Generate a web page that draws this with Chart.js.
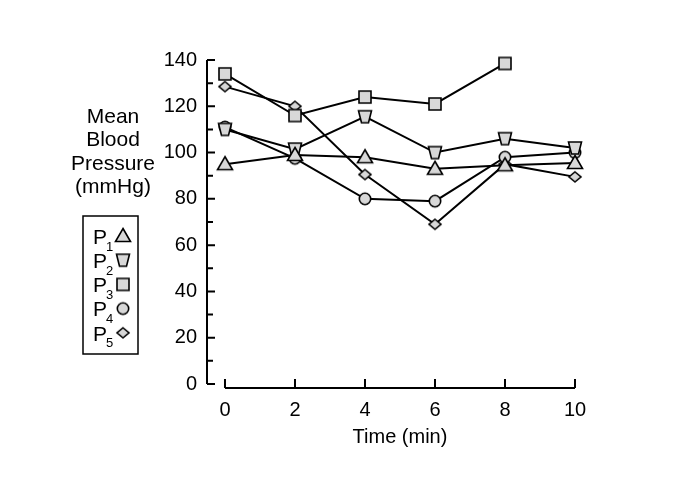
<!DOCTYPE html>
<html>
<head>
<meta charset="utf-8">
<script src="https://cdn.jsdelivr.net/npm/chart.js@4.4.1/dist/chart.umd.min.js"></script>
<style>
  html, body { margin: 0; padding: 0; background: #fff; }
</style>
</head>
<body>
<canvas id="bpChart" width="685" height="503"></canvas>
<script>
// Data
const times = [0, 2, 4, 6, 8, 10];
const p1 = [95, 99, 98, 93, 94.5, 95.5];
const p2 = [110, 101.5, 115.5, 100, 106, 102];
const p3 = [134, 116, 124, 121, 138.5, null];
const p4 = [111, 97.5, 80, 79, 98, 100];
const p5 = [128.5, 120, 90.5, 69, 95, 89.5];
const seriesSubs = ['1', '2', '3', '4', '5'];
const xTicks = [0, 2, 4, 6, 8, 10];
const yTicks = [0, 20, 40, 60, 80, 100, 120, 140];
const yMinorTicks = [10, 30, 50, 70, 90, 110, 130];
const yTitleLines = ['Mean', 'Blood', 'Pressure', '(mmHg)'];
const xTitle = 'Time (min)';

const FONT = '"Liberation Sans", Arial, Helvetica, sans-serif';
const FILL = '#d8d8d8';

// Marker images
function makeMarker(shape) {
    const c = document.createElement('canvas');
    c.width = 20; c.height = 20;
    const g = c.getContext('2d');
    g.translate(10, 10);
    g.beginPath();
    if (shape === 'tri') {
        g.moveTo(0, -7.5); g.lineTo(7.5, 5.5); g.lineTo(-7.5, 5.5);
    } else if (shape === 'trap') {
        g.moveTo(-6.5, -6); g.lineTo(6.5, -6); g.lineTo(3.5, 6); g.lineTo(-3.5, 6);
    } else if (shape === 'sq') {
        g.rect(-6, -6, 12, 12);
    } else if (shape === 'circ') {
        g.arc(0, 0, 5.7, 0, Math.PI * 2);
    } else {
        g.moveTo(0, -5); g.lineTo(6, 0); g.lineTo(0, 5); g.lineTo(-6, 0);
    }
    g.closePath();
    g.fillStyle = FILL;
    g.fill();
    g.lineWidth = 1.6;
    g.strokeStyle = '#000';
    g.stroke();
    return c;
}
const markers = [makeMarker('tri'), makeMarker('trap'), makeMarker('sq'), makeMarker('circ'), makeMarker('dia')];
const series = [p1, p2, p3, p4, p5];

const datasets = series.map((vals, i) => ({
    label: 'P' + seriesSubs[i],
    data: times.map((t, j) => ({ x: t, y: vals[j] })),
    borderColor: '#000',
    borderWidth: 2,
    pointStyle: markers[i],
    pointRadius: 7,
    tension: 0,
    clip: false
}));

// Axes, legend and titles drawn by hand
const decorPlugin = {
    id: 'decor',
    afterDraw(chart) {
        const g = chart.ctx;
        const xs = chart.scales.x;
        const ys = chart.scales.y;
        const area = chart.chartArea;
        g.save();
        g.strokeStyle = '#000';
        g.fillStyle = '#000';
        g.lineWidth = 2;

        // y axis (the zero tick doubles as the foot)
        const ax = area.left;
        const y0 = ys.getPixelForValue(yTicks[0]);
        const yTop = ys.getPixelForValue(yTicks[yTicks.length - 1]);
        g.beginPath();
        g.moveTo(ax, yTop);
        g.lineTo(ax, y0);
        yTicks.forEach(v => {
            const y = ys.getPixelForValue(v);
            g.moveTo(ax, y); g.lineTo(ax + 8, y);
        });
        yMinorTicks.forEach(v => {
            const y = ys.getPixelForValue(v);
            g.moveTo(ax, y); g.lineTo(ax + 6, y);
        });
        g.stroke();

        // x axis
        const by = area.bottom;
        g.beginPath();
        g.moveTo(xs.getPixelForValue(xTicks[0]), by);
        g.lineTo(xs.getPixelForValue(xTicks[xTicks.length - 1]), by);
        xTicks.forEach(v => {
            const x = xs.getPixelForValue(v);
            g.moveTo(x, by); g.lineTo(x, by - 9);
        });
        g.stroke();

        // x title
        g.font = '20px ' + FONT;
        g.textAlign = 'center';
        g.textBaseline = 'middle';
        const xMid = (xs.getPixelForValue(xTicks[0]) + xs.getPixelForValue(xTicks[xTicks.length - 1])) / 2;
        g.fillText(xTitle, xMid, 437);

        // y title
        g.font = '21px ' + FONT;
        yTitleLines.forEach((t, i) => g.fillText(t, 113, 117 + i * 23.5));

        // legend box
        g.lineWidth = 1.5;
        g.strokeRect(83, 216, 55, 138);
        seriesSubs.forEach((s, i) => {
            const cy = 238 + i * 24.2;
            g.font = '21px ' + FONT;
            g.textAlign = 'left';
            g.fillText('P', 93, cy);
            g.font = '13px ' + FONT;
            g.fillText(s, 106, cy + 9);
            g.drawImage(markers[i], 123 - 10, cy - 2 - 10);
        });
        g.restore();
    }
};

const tickFont = { family: FONT, size: 20 };

new Chart(document.getElementById('bpChart'), {
    type: 'line',
    data: { datasets: datasets },
    options: {
        responsive: false,
        animation: false,
        layout: { padding: { top: 60, right: 110, left: 0, bottom: 0 } },
        plugins: { legend: { display: false }, tooltip: { enabled: false } },
        scales: {
            x: {
                type: 'linear',
                min: -0.514,
                max: 10,
                afterBuildTicks: s => { s.ticks = xTicks.map(v => ({ value: v })); },
                afterFit: s => { s.height = 115; },
                ticks: { font: tickFont, color: '#000', padding: 10, maxRotation: 0 },
                grid: { display: false, drawTicks: false },
                border: { display: false }
            },
            y: {
                min: -1.73,
                max: 140,
                afterBuildTicks: s => { s.ticks = yTicks.map(v => ({ value: v })); },
                afterFit: s => { s.width = 207; },
                ticks: { font: tickFont, color: '#000', padding: 10 },
                grid: { display: false, drawTicks: false },
                border: { display: false }
            }
        }
    },
    plugins: [decorPlugin]
});
</script>
</body>
</html>
